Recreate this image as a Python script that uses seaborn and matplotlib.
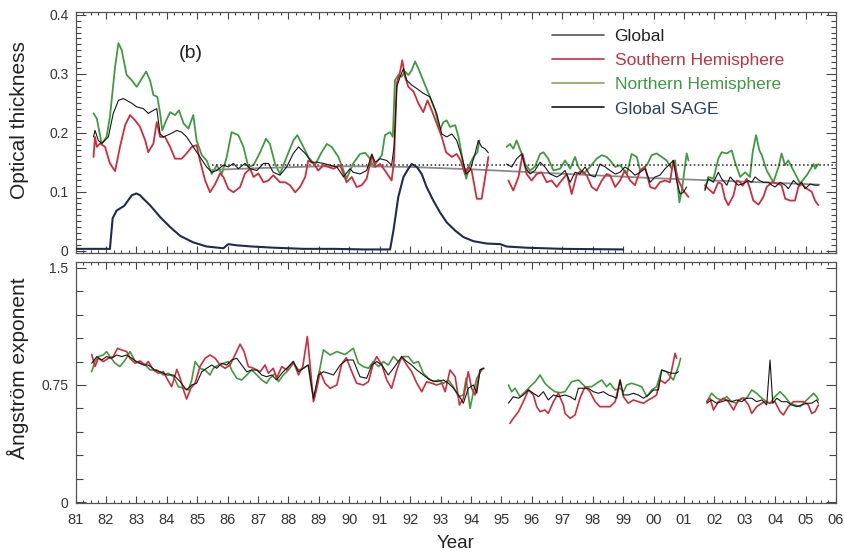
import matplotlib
matplotlib.use("Agg")
import matplotlib.pyplot as plt
import seaborn as sns
from matplotlib.ticker import FixedLocator, MultipleLocator, FixedFormatter
from matplotlib.lines import Line2D

# ---------------- axis ticks / labels ----------------
year_ticks = list(range(1981, 2007))
year_labels = ["81", "82", "83", "84", "85", "86", "87", "88", "89", "90", "91", "92", "93",
               "94", "95", "96", "97", "98", "99", "00", "01", "02", "03", "04", "05", "06"]
aod_ticks = [0.0, 0.1, 0.2, 0.3, 0.4]
aod_tick_labels = ["0", "0.1", "0.2", "0.3", "0.4"]
ang_ticks = [0.0, 0.75, 1.5]
ang_tick_labels = ["0", "0.75", "1.5"]

series_labels = ["Global", "Southern Hemisphere", "Northern Hemisphere", "Global SAGE"]

# ---------------- top panel: optical thickness ----------------
# Northern Hemisphere
nh_aod_yr_a = [1981.59, 1981.70, 1981.86, 1982.02, 1982.13, 1982.30, 1982.41, 1982.52, 1982.68, 1982.85,
               1983.01, 1983.18, 1983.32, 1983.45, 1983.56, 1983.69, 1983.78, 1983.85, 1983.98, 1984.11,
               1984.27, 1984.40, 1984.55, 1984.71, 1984.87, 1984.98, 1985.15, 1985.31, 1985.48, 1985.64,
               1985.81, 1985.97, 1986.13, 1986.35, 1986.52, 1986.68, 1986.85, 1987.07, 1987.26, 1987.39,
               1987.56, 1987.72, 1987.94, 1988.16, 1988.29, 1988.49, 1988.65, 1988.87, 1989.09, 1989.26,
               1989.42, 1989.64, 1989.91, 1990.13, 1990.35, 1990.52, 1990.68, 1990.79, 1990.90, 1991.07,
               1991.17, 1991.34, 1991.43, 1991.50, 1991.61, 1991.72, 1991.83, 1991.94, 1992.05, 1992.16,
               1992.27, 1992.38, 1992.49, 1992.65, 1992.82, 1992.98, 1993.09, 1993.20, 1993.31, 1993.48,
               1993.59, 1993.75, 1993.84, 1993.97, 1994.08, 1994.21, 1994.28]
nh_aod_a = [0.233, 0.224, 0.181, 0.193, 0.227, 0.312, 0.352, 0.340, 0.298, 0.289,
            0.278, 0.292, 0.304, 0.289, 0.264, 0.261, 0.233, 0.204, 0.221, 0.235,
            0.230, 0.238, 0.216, 0.207, 0.230, 0.187, 0.162, 0.153, 0.130, 0.145,
            0.130, 0.159, 0.201, 0.196, 0.176, 0.142, 0.145, 0.167, 0.190, 0.181,
            0.147, 0.130, 0.159, 0.187, 0.196, 0.176, 0.159, 0.145, 0.167, 0.181,
            0.176, 0.159, 0.122, 0.148, 0.164, 0.166, 0.156, 0.142, 0.150, 0.162,
            0.196, 0.201, 0.193, 0.289, 0.298, 0.295, 0.304, 0.298, 0.306, 0.321,
            0.309, 0.295, 0.281, 0.261, 0.238, 0.204, 0.218, 0.221, 0.210, 0.213,
            0.193, 0.147, 0.122, 0.147, 0.159, 0.167, 0.187]
nh_aod_yr_b = [1995.17, 1995.28, 1995.39, 1995.50, 1995.67, 1995.78, 1995.94, 1996.10, 1996.27, 1996.38,
               1996.54, 1996.71, 1996.93, 1997.09, 1997.26, 1997.42, 1997.53, 1997.69, 1997.91, 1998.13,
               1998.30, 1998.46, 1998.57, 1998.74, 1998.90, 1999.12, 1999.28, 1999.45, 1999.56, 1999.78,
               1999.94, 2000.10, 2000.27, 2000.43, 2000.60, 2000.71, 2000.85, 2000.93, 2001.09, 2001.15]
nh_aod_b = [0.176, 0.181, 0.173, 0.187, 0.164, 0.147, 0.136, 0.142, 0.164, 0.167,
            0.156, 0.136, 0.139, 0.153, 0.139, 0.159, 0.142, 0.130, 0.142, 0.156,
            0.162, 0.159, 0.153, 0.142, 0.145, 0.130, 0.164, 0.159, 0.136, 0.145,
            0.162, 0.165, 0.159, 0.153, 0.139, 0.153, 0.082, 0.102, 0.165, 0.153]
nh_aod_yr_c = [2001.69, 2001.80, 2001.97, 2002.13, 2002.24, 2002.41, 2002.57, 2002.68, 2002.85, 2003.01,
               2003.17, 2003.26, 2003.37, 2003.48, 2003.56, 2003.72, 2003.94, 2004.11, 2004.21, 2004.32,
               2004.43, 2004.60, 2004.82, 2005.04, 2005.26, 2005.31, 2005.42]
nh_aod_c = [0.105, 0.125, 0.122, 0.156, 0.167, 0.165, 0.170, 0.150, 0.125, 0.133,
            0.125, 0.167, 0.196, 0.170, 0.162, 0.136, 0.116, 0.142, 0.165, 0.145,
            0.153, 0.136, 0.114, 0.128, 0.147, 0.139, 0.147]

# Southern Hemisphere
sh_aod_yr_a = [1981.59, 1981.64, 1981.70, 1981.81, 1981.97, 1982.13, 1982.30, 1982.46, 1982.63, 1982.79,
               1982.96, 1983.12, 1983.29, 1983.39, 1983.56, 1983.67, 1983.78, 1983.94, 1984.11, 1984.27,
               1984.49, 1984.65, 1984.82, 1984.98, 1985.09, 1985.26, 1985.42, 1985.59, 1985.75, 1985.86,
               1986.02, 1986.19, 1986.41, 1986.57, 1986.74, 1986.85, 1987.01, 1987.18, 1987.34, 1987.50,
               1987.72, 1987.89, 1988.05, 1988.22, 1988.38, 1988.55, 1988.65, 1988.82, 1988.98, 1989.15,
               1989.31, 1989.48, 1989.70, 1989.91, 1990.08, 1990.24, 1990.41, 1990.57, 1990.74, 1990.85,
               1991.01, 1991.17, 1991.39, 1991.47, 1991.56, 1991.67, 1991.74, 1991.83, 1991.94, 1992.11,
               1992.27, 1992.43, 1992.57, 1992.71, 1992.87, 1993.04, 1993.18, 1993.37, 1993.53, 1993.66,
               1993.80, 1993.91, 1994.02, 1994.19, 1994.35, 1994.52, 1994.57]
sh_aod_a = [0.159, 0.193, 0.176, 0.182, 0.176, 0.148, 0.135, 0.176, 0.213, 0.230,
            0.221, 0.210, 0.187, 0.167, 0.182, 0.218, 0.193, 0.193, 0.176, 0.156,
            0.156, 0.165, 0.176, 0.179, 0.153, 0.119, 0.099, 0.113, 0.131, 0.125,
            0.105, 0.099, 0.108, 0.131, 0.139, 0.125, 0.131, 0.116, 0.119, 0.128,
            0.116, 0.116, 0.111, 0.099, 0.108, 0.125, 0.153, 0.148, 0.136, 0.145,
            0.142, 0.139, 0.145, 0.116, 0.125, 0.108, 0.111, 0.122, 0.162, 0.142,
            0.147, 0.136, 0.119, 0.153, 0.284, 0.304, 0.323, 0.295, 0.278, 0.270,
            0.250, 0.235, 0.255, 0.238, 0.216, 0.193, 0.167, 0.159, 0.164, 0.153,
            0.130, 0.142, 0.136, 0.088, 0.088, 0.142, 0.159]
sh_aod_yr_b = [1995.23, 1995.39, 1995.56, 1995.70, 1995.83, 1995.99, 1996.16, 1996.32, 1996.49, 1996.65,
               1996.82, 1996.93, 1997.15, 1997.31, 1997.48, 1997.64, 1997.80, 1997.97, 1998.13, 1998.30,
               1998.46, 1998.57, 1998.74, 1998.90, 1999.06, 1999.23, 1999.39, 1999.56, 1999.72, 1999.89,
               2000.05, 2000.21, 2000.38, 2000.54, 2000.65, 2000.82, 2000.98, 2001.15]
sh_aod_b = [0.119, 0.102, 0.125, 0.164, 0.130, 0.119, 0.130, 0.133, 0.116, 0.119,
            0.108, 0.116, 0.130, 0.096, 0.130, 0.136, 0.128, 0.108, 0.102, 0.119,
            0.130, 0.128, 0.108, 0.119, 0.136, 0.119, 0.111, 0.136, 0.142, 0.108,
            0.105, 0.116, 0.119, 0.116, 0.153, 0.119, 0.102, 0.091]
sh_aod_yr_c = [2001.69, 2001.80, 2001.97, 2002.13, 2002.24, 2002.35, 2002.46, 2002.63, 2002.74, 2002.85,
               2002.93, 2003.06, 2003.17, 2003.28, 2003.45, 2003.61, 2003.72, 2003.89, 2004.05, 2004.21,
               2004.33, 2004.49, 2004.65, 2004.76, 2004.87, 2005.04, 2005.20, 2005.31, 2005.42]
sh_aod_c = [0.111, 0.105, 0.097, 0.116, 0.113, 0.088, 0.077, 0.094, 0.119, 0.116,
            0.110, 0.122, 0.105, 0.085, 0.078, 0.091, 0.108, 0.116, 0.114, 0.111,
            0.088, 0.085, 0.085, 0.108, 0.113, 0.105, 0.100, 0.085, 0.077]

# Global
gl_aod_yr_a = [1981.59, 1981.64, 1981.75, 1981.86, 1982.08, 1982.24, 1982.41, 1982.57, 1982.68, 1982.85,
               1983.01, 1983.23, 1983.39, 1983.56, 1983.67, 1983.78, 1983.89, 1984.11, 1984.33, 1984.49,
               1984.65, 1984.87, 1985.09, 1985.31, 1985.48, 1985.64, 1985.86, 1986.02, 1986.19, 1986.35,
               1986.57, 1986.74, 1986.96, 1987.18, 1987.34, 1987.50, 1987.72, 1987.94, 1988.16, 1988.33,
               1988.55, 1988.76, 1988.93, 1989.15, 1989.37, 1989.59, 1989.81, 1990.02, 1990.13, 1990.35,
               1990.57, 1990.74, 1990.85, 1991.01, 1991.23, 1991.39, 1991.47, 1991.56, 1991.67, 1991.78,
               1991.89, 1992.05, 1992.22, 1992.43, 1992.65, 1992.87, 1993.04, 1993.20, 1993.37, 1993.53,
               1993.70, 1993.84, 1993.97, 1994.13, 1994.24, 1994.35, 1994.46, 1994.57]
gl_aod_a = [0.193, 0.204, 0.187, 0.182, 0.193, 0.233, 0.255, 0.258, 0.255, 0.250,
            0.244, 0.241, 0.233, 0.238, 0.241, 0.198, 0.193, 0.198, 0.204, 0.201,
            0.193, 0.176, 0.159, 0.142, 0.133, 0.136, 0.145, 0.142, 0.148, 0.139,
            0.148, 0.139, 0.136, 0.148, 0.148, 0.133, 0.128, 0.142, 0.165, 0.176,
            0.165, 0.150, 0.150, 0.148, 0.145, 0.142, 0.125, 0.139, 0.133, 0.130,
            0.136, 0.164, 0.150, 0.156, 0.153, 0.145, 0.176, 0.278, 0.295, 0.309,
            0.289, 0.281, 0.275, 0.267, 0.261, 0.233, 0.198, 0.193, 0.198, 0.187,
            0.159, 0.130, 0.136, 0.164, 0.187, 0.176, 0.173, 0.166]
gl_aod_yr_b = [1995.17, 1995.34, 1995.50, 1995.67, 1995.78, 1995.94, 1996.10, 1996.27, 1996.43, 1996.60,
               1996.82, 1996.93, 1997.09, 1997.26, 1997.42, 1997.58, 1997.75, 1997.91, 1998.08, 1998.24,
               1998.41, 1998.57, 1998.74, 1998.90, 1999.06, 1999.23, 1999.39, 1999.56, 1999.72, 1999.89,
               2000.05, 2000.21, 2000.38, 2000.54, 2000.65, 2000.76, 2000.87, 2000.98, 2001.09]
gl_aod_b = [0.147, 0.142, 0.156, 0.164, 0.142, 0.130, 0.136, 0.150, 0.142, 0.130,
            0.125, 0.128, 0.136, 0.116, 0.133, 0.130, 0.142, 0.128, 0.125, 0.147,
            0.142, 0.136, 0.130, 0.133, 0.142, 0.136, 0.128, 0.133, 0.139, 0.116,
            0.125, 0.128, 0.139, 0.147, 0.153, 0.119, 0.096, 0.099, 0.108]
gl_aod_yr_c = [2001.69, 2001.80, 2001.97, 2002.13, 2002.24, 2002.41, 2002.52, 2002.68, 2002.79, 2002.96,
               2003.12, 2003.23, 2003.34, 2003.48, 2003.61, 2003.78, 2003.89, 2004.00, 2004.16, 2004.33,
               2004.43, 2004.60, 2004.76, 2004.87, 2004.98, 2005.15, 2005.31, 2005.42]
gl_aod_c = [0.102, 0.122, 0.116, 0.133, 0.122, 0.111, 0.125, 0.116, 0.111, 0.114,
            0.119, 0.116, 0.125, 0.119, 0.116, 0.116, 0.111, 0.108, 0.116, 0.111,
            0.105, 0.119, 0.111, 0.116, 0.105, 0.113, 0.111, 0.111]

# Global SAGE
sage_yr = [1981.00, 1982.13, 1982.22, 1982.35, 1982.60, 1982.85, 1983.00, 1983.12, 1983.23, 1983.45,
           1983.78, 1984.11, 1984.44, 1984.87, 1985.31, 1985.86, 1986.02, 1986.30, 1986.80, 1987.50,
           1988.50, 1989.50, 1990.50, 1991.34, 1991.45, 1991.61, 1991.78, 1991.94, 1992.05, 1992.22,
           1992.38, 1992.54, 1992.76, 1992.98, 1993.20, 1993.48, 1993.75, 1994.08, 1994.52, 1994.96,
           1995.17, 1995.80, 1997.00, 1999.00]
sage_aod = [0.003, 0.003, 0.055, 0.068, 0.076, 0.094, 0.097, 0.094, 0.088, 0.077,
            0.057, 0.040, 0.025, 0.014, 0.007, 0.004, 0.011, 0.009, 0.007, 0.005,
            0.003, 0.003, 0.002, 0.002, 0.034, 0.091, 0.125, 0.139, 0.147, 0.142,
            0.130, 0.108, 0.085, 0.065, 0.048, 0.034, 0.023, 0.016, 0.012, 0.011,
            0.007, 0.005, 0.003, 0.002]

# global trend (grey) and reference level (dotted)
trend_yr = [1985.48, 1987.0, 1989.0, 1990.5, 1992.0, 1994.0, 1996.0, 1998.0, 2000.0, 2002.0, 2004.0, 2005.45]
trend_aod = [0.137, 0.140, 0.143, 0.143, 0.142, 0.138, 0.133, 0.128, 0.123, 0.119, 0.115, 0.112]
ref_yr = [1985.48, 2006.0]
ref_aod = [0.145, 0.145]

# ---------------- bottom panel: Angstrom exponent ----------------
sh_ang_yr_a = [1981.53, 1981.64, 1981.75, 1981.91, 1982.08, 1982.24, 1982.38, 1982.52, 1982.68, 1982.79,
               1982.96, 1983.12, 1983.29, 1983.39, 1983.56, 1983.72, 1983.89, 1984.00, 1984.16, 1984.33,
               1984.44, 1984.55, 1984.65, 1984.79, 1984.93, 1985.09, 1985.26, 1985.42, 1985.59, 1985.75,
               1985.92, 1986.08, 1986.24, 1986.41, 1986.54, 1986.68, 1986.85, 1987.07, 1987.23, 1987.34,
               1987.50, 1987.61, 1987.78, 1987.94, 1988.16, 1988.33, 1988.47, 1988.62, 1988.71, 1988.82,
               1988.93, 1989.04, 1989.20, 1989.37, 1989.59, 1989.75, 1989.90, 1990.05, 1990.24, 1990.46,
               1990.63, 1990.79, 1990.90, 1991.07, 1991.23, 1991.39, 1991.56, 1991.72, 1991.89, 1992.05,
               1992.22, 1992.38, 1992.54, 1992.71, 1992.87, 1993.04, 1993.15, 1993.31, 1993.48, 1993.62,
               1993.75, 1993.91, 1994.02, 1994.13, 1994.30, 1994.39]
sh_ang_a = [0.946, 0.868, 0.921, 0.900, 0.921, 0.932, 0.985, 0.974, 0.964, 0.921,
            0.889, 0.904, 0.878, 0.900, 0.846, 0.825, 0.835, 0.793, 0.739, 0.850,
            0.793, 0.718, 0.660, 0.729, 0.761, 0.868, 0.921, 0.942, 0.921, 0.878,
            0.857, 0.878, 0.942, 1.011, 0.964, 0.868, 0.857, 0.835, 0.878, 0.825,
            0.857, 0.793, 0.868, 0.846, 0.900, 0.814, 0.868, 1.060, 0.878, 0.643,
            0.729, 0.835, 0.761, 0.729, 0.750, 0.885, 0.925, 0.850, 0.761, 0.750,
            0.771, 0.889, 0.932, 0.878, 0.782, 0.729, 0.846, 0.932, 0.878, 0.835,
            0.761, 0.707, 0.771, 0.761, 0.750, 0.761, 0.707, 0.846, 0.803, 0.622,
            0.665, 0.835, 0.729, 0.686, 0.846, 0.857]
sh_ang_yr_b = [1995.28, 1995.39, 1995.56, 1995.72, 1995.89, 1996.05, 1996.16, 1996.27, 1996.43, 1996.54,
               1996.71, 1996.87, 1997.04, 1997.09, 1997.26, 1997.42, 1997.58, 1997.75, 1997.91, 1998.08,
               1998.24, 1998.41, 1998.57, 1998.74, 1998.90, 1999.01, 1999.17, 1999.34, 1999.50, 1999.67,
               1999.83, 1999.94, 2000.10, 2000.21, 2000.38, 2000.54, 2000.71, 2000.76]
sh_ang_b = [0.504, 0.536, 0.579, 0.643, 0.718, 0.686, 0.611, 0.579, 0.590, 0.568,
            0.643, 0.697, 0.620, 0.568, 0.536, 0.558, 0.665, 0.739, 0.707, 0.643,
            0.611, 0.611, 0.611, 0.643, 0.782, 0.675, 0.633, 0.654, 0.643, 0.633,
            0.654, 0.665, 0.686, 0.782, 0.761, 0.793, 0.953, 0.921]
sh_ang_yr_c = [2001.75, 2001.86, 2001.97, 2002.13, 2002.30, 2002.46, 2002.63, 2002.79, 2002.95, 2003.12,
               2003.23, 2003.39, 2003.56, 2003.67, 2003.83, 2003.99, 2004.16, 2004.27, 2004.43, 2004.60,
               2004.76, 2004.93, 2005.09, 2005.20, 2005.31, 2005.42]
sh_ang_c = [0.643, 0.665, 0.590, 0.643, 0.665, 0.643, 0.590, 0.654, 0.665, 0.622,
            0.568, 0.611, 0.633, 0.643, 0.633, 0.643, 0.579, 0.558, 0.611, 0.643,
            0.643, 0.643, 0.622, 0.568, 0.579, 0.622]

nh_ang_yr_a = [1981.53, 1981.64, 1981.75, 1981.91, 1982.02, 1982.13, 1982.30, 1982.46, 1982.63, 1982.79,
               1982.96, 1983.12, 1983.29, 1983.45, 1983.67, 1983.89, 1984.05, 1984.22, 1984.38, 1984.55,
               1984.71, 1984.82, 1984.93, 1985.09, 1985.26, 1985.42, 1985.53, 1985.70, 1985.86, 1986.02,
               1986.13, 1986.30, 1986.46, 1986.63, 1986.79, 1986.96, 1987.12, 1987.28, 1987.39, 1987.56,
               1987.67, 1987.83, 1988.00, 1988.16, 1988.33, 1988.49, 1988.65, 1988.76, 1988.84, 1988.98,
               1989.15, 1989.37, 1989.59, 1989.86, 1990.13, 1990.30, 1990.46, 1990.63, 1990.79, 1990.96,
               1991.12, 1991.28, 1991.45, 1991.61, 1991.78, 1991.94, 1992.11, 1992.27, 1992.43, 1992.60,
               1992.76, 1992.93, 1993.09, 1993.26, 1993.42, 1993.59, 1993.75, 1993.84, 1993.97, 1994.08,
               1994.19, 1994.35, 1994.43]
nh_ang_a = [0.835, 0.900, 0.932, 0.942, 0.964, 0.932, 0.889, 0.868, 0.910, 0.964,
            0.900, 0.889, 0.878, 0.846, 0.846, 0.814, 0.825, 0.803, 0.739, 0.729,
            0.718, 0.782, 0.900, 0.857, 0.846, 0.814, 0.857, 0.878, 0.889, 0.900,
            0.846, 0.793, 0.782, 0.814, 0.846, 0.814, 0.782, 0.761, 0.793, 0.825,
            0.771, 0.814, 0.846, 0.889, 0.846, 0.857, 0.878, 0.729, 0.654, 0.803,
            0.975, 0.942, 0.964, 0.945, 0.985, 0.889, 0.868, 0.857, 0.900, 0.868,
            0.900, 0.878, 0.932, 0.900, 0.932, 0.932, 0.889, 0.900, 0.825, 0.793,
            0.771, 0.782, 0.761, 0.782, 0.739, 0.675, 0.686, 0.793, 0.600, 0.707,
            0.793, 0.846, 0.857]
nh_ang_yr_b = [1995.23, 1995.34, 1995.45, 1995.61, 1995.78, 1995.94, 1996.11, 1996.27, 1996.43, 1996.60,
               1996.76, 1996.93, 1997.09, 1997.31, 1997.53, 1997.75, 1997.97, 1998.13, 1998.30, 1998.46,
               1998.57, 1998.74, 1998.90, 1999.01, 1999.12, 1999.28, 1999.45, 1999.61, 1999.78, 1999.94,
               2000.10, 2000.27, 2000.43, 2000.65, 2000.82, 2000.89]
nh_ang_b = [0.750, 0.707, 0.729, 0.675, 0.707, 0.739, 0.771, 0.814, 0.761, 0.729,
            0.707, 0.700, 0.707, 0.771, 0.782, 0.739, 0.739, 0.761, 0.782, 0.739,
            0.761, 0.718, 0.729, 0.707, 0.750, 0.761, 0.750, 0.739, 0.675, 0.718,
            0.739, 0.846, 0.835, 0.782, 0.868, 0.921]
nh_ang_yr_c = [2001.75, 2001.91, 2002.08, 2002.24, 2002.41, 2002.57, 2002.73, 2002.90, 2003.06, 2003.23,
               2003.39, 2003.56, 2003.72, 2003.83, 2003.99, 2004.16, 2004.32, 2004.49, 2004.65, 2004.82,
               2004.98, 2005.15, 2005.26, 2005.36, 2005.42]
nh_ang_c = [0.643, 0.697, 0.665, 0.654, 0.675, 0.643, 0.633, 0.665, 0.665, 0.718,
            0.697, 0.665, 0.643, 0.633, 0.675, 0.707, 0.675, 0.633, 0.622, 0.611,
            0.643, 0.675, 0.697, 0.675, 0.654]

gl_ang_yr_a = [1981.53, 1981.70, 1981.86, 1982.02, 1982.19, 1982.35, 1982.52, 1982.68, 1982.85, 1983.01,
               1983.23, 1983.39, 1983.61, 1983.78, 1984.00, 1984.22, 1984.44, 1984.65, 1984.82, 1984.98,
               1985.15, 1985.31, 1985.48, 1985.64, 1985.81, 1985.97, 1986.13, 1986.30, 1986.46, 1986.63,
               1986.79, 1986.96, 1987.12, 1987.28, 1987.45, 1987.61, 1987.78, 1987.94, 1988.16, 1988.33,
               1988.49, 1988.65, 1988.82, 1988.98, 1989.15, 1989.31, 1989.48, 1989.70, 1989.91, 1990.13,
               1990.35, 1990.57, 1990.74, 1990.90, 1991.07, 1991.28, 1991.45, 1991.61, 1991.72, 1991.89,
               1992.05, 1992.22, 1992.43, 1992.65, 1992.87, 1993.09, 1993.26, 1993.42, 1993.59, 1993.75,
               1993.91, 1994.08, 1994.19, 1994.30, 1994.41]
gl_ang_a = [0.889, 0.932, 0.910, 0.932, 0.921, 0.942, 0.932, 0.942, 0.921, 0.900,
            0.878, 0.878, 0.846, 0.835, 0.814, 0.814, 0.771, 0.718, 0.750, 0.761,
            0.835, 0.857, 0.878, 0.857, 0.889, 0.878, 0.910, 0.921, 0.878, 0.835,
            0.846, 0.846, 0.814, 0.803, 0.814, 0.782, 0.825, 0.857, 0.900, 0.835,
            0.857, 0.878, 0.665, 0.814, 0.835, 0.825, 0.814, 0.878, 0.910, 0.910,
            0.803, 0.793, 0.878, 0.900, 0.878, 0.814, 0.857, 0.900, 0.932, 0.900,
            0.878, 0.846, 0.814, 0.782, 0.771, 0.782, 0.761, 0.729, 0.686, 0.633,
            0.729, 0.750, 0.697, 0.846, 0.857]
gl_ang_yr_b = [1995.23, 1995.39, 1995.56, 1995.72, 1995.89, 1996.05, 1996.22, 1996.38, 1996.54, 1996.71,
               1996.87, 1997.09, 1997.26, 1997.42, 1997.53, 1997.69, 1997.86, 1998.02, 1998.19, 1998.35,
               1998.52, 1998.68, 1998.79, 1998.90, 1999.01, 1999.17, 1999.34, 1999.50, 1999.67, 1999.83,
               2000.00, 2000.16, 2000.27, 2000.43, 2000.60, 2000.74, 2000.82]
gl_ang_b = [0.633, 0.675, 0.665, 0.686, 0.718, 0.697, 0.675, 0.707, 0.654, 0.686,
            0.675, 0.686, 0.675, 0.654, 0.729, 0.729, 0.729, 0.707, 0.697, 0.707,
            0.686, 0.675, 0.665, 0.782, 0.686, 0.686, 0.697, 0.686, 0.665, 0.686,
            0.718, 0.718, 0.846, 0.835, 0.825, 0.825, 0.835]
gl_ang_yr_c = [2001.75, 2001.91, 2002.08, 2002.24, 2002.41, 2002.57, 2002.73, 2002.90, 2003.06, 2003.23,
               2003.39, 2003.56, 2003.72, 2003.83, 2003.92, 2004.05, 2004.21, 2004.38, 2004.54, 2004.71,
               2004.87, 2005.04, 2005.20, 2005.36, 2005.42]
gl_ang_c = [0.633, 0.654, 0.633, 0.643, 0.654, 0.643, 0.654, 0.643, 0.665, 0.665,
            0.643, 0.654, 0.622, 0.910, 0.633, 0.665, 0.643, 0.643, 0.622, 0.611,
            0.622, 0.633, 0.633, 0.654, 0.633]

# ---------------- styling ----------------
C_NH = "#3f9b3f"
C_SH = "#d22b3c"
C_GL = "#151515"
C_SAGE = "#1e2d4a"
C_TREND = "#8a8a8a"
legend_line_colors = ["#555555", "#d22b3c", "#86a84e", "#151515"]
legend_text_colors = ["#222222", "#c8303f", "#3f9a3f", "#2d3e63"]

sns.set_theme(style="white")
plt.rcParams["font.family"] = ["Liberation Sans", "DejaVu Sans"]

fig = plt.figure(figsize=(8.45, 5.52), dpi=100)
fig.patch.set_facecolor("white")
ax1 = fig.add_axes([0.0894, 0.5417, 0.9, 0.4366])
ax2 = fig.add_axes([0.0894, 0.0888, 0.9, 0.4366])


def seg(ax, xs, ys, color, lw, z, ls="-"):
    sns.lineplot(x=xs, y=ys, ax=ax, color=color, linewidth=lw, sort=False,
                 estimator=None, zorder=z, legend=False, linestyle=ls)


# top panel
for xs, ys in [(nh_aod_yr_a, nh_aod_a), (nh_aod_yr_b, nh_aod_b), (nh_aod_yr_c, nh_aod_c)]:
    seg(ax1, xs, ys, C_NH, 1.3, 2)
seg(ax1, ref_yr, ref_aod, "#222222", 1.1, 2.5, ":")
seg(ax1, trend_yr, trend_aod, C_TREND, 1.3, 2.6)
for xs, ys in [(sh_aod_yr_a, sh_aod_a), (sh_aod_yr_b, sh_aod_b), (sh_aod_yr_c, sh_aod_c)]:
    seg(ax1, xs, ys, C_SH, 1.3, 3)
for xs, ys in [(gl_aod_yr_a, gl_aod_a), (gl_aod_yr_b, gl_aod_b), (gl_aod_yr_c, gl_aod_c)]:
    seg(ax1, xs, ys, C_GL, 0.8, 4)
seg(ax1, sage_yr, sage_aod, C_SAGE, 1.5, 4)

# bottom panel
for xs, ys in [(nh_ang_yr_a, nh_ang_a), (nh_ang_yr_b, nh_ang_b), (nh_ang_yr_c, nh_ang_c)]:
    seg(ax2, xs, ys, C_NH, 1.2, 2)
for xs, ys in [(sh_ang_yr_a, sh_ang_a), (sh_ang_yr_b, sh_ang_b), (sh_ang_yr_c, sh_ang_c)]:
    seg(ax2, xs, ys, C_SH, 1.2, 3)
for xs, ys in [(gl_ang_yr_a, gl_ang_a), (gl_ang_yr_b, gl_ang_b), (gl_ang_yr_c, gl_ang_c)]:
    seg(ax2, xs, ys, C_GL, 0.8, 4)

# axes formatting
for ax in (ax1, ax2):
    ax.set_xlim(1981, 2006)
    ax.xaxis.set_major_locator(FixedLocator(year_ticks))
    ax.xaxis.set_minor_locator(MultipleLocator(0.25))
    ax.tick_params(which="both", direction="in", top=True, right=True, left=True, bottom=True,
                   color="#444444", width=0.8)
    ax.tick_params(axis="x", which="major", length=5)
    ax.tick_params(axis="x", which="minor", length=2.5)
    for sp in ax.spines.values():
        sp.set_color("#555555")
        sp.set_linewidth(0.9)
    ax.set_xlabel("")
    ax.set_ylabel("")

ax1.set_ylim(-0.004, 0.405)
ax1.yaxis.set_major_locator(FixedLocator(aod_ticks))
ax1.yaxis.set_major_formatter(FixedFormatter(aod_tick_labels))
ax1.yaxis.set_minor_locator(MultipleLocator(0.01))
ax1.tick_params(axis="y", which="major", length=7, labelsize=10, pad=5, labelcolor="#333333")
ax1.tick_params(axis="y", which="minor", length=3.5)
ax1.tick_params(axis="x", labelbottom=False)

ax2.set_ylim(-0.006, 1.538)
ax2.yaxis.set_major_locator(FixedLocator(ang_ticks))
ax2.yaxis.set_major_formatter(FixedFormatter(ang_tick_labels))
ax2.yaxis.set_minor_locator(MultipleLocator(0.15))
ax2.tick_params(axis="y", which="major", length=7, labelsize=10, pad=5, labelcolor="#333333")
ax2.tick_params(axis="y", which="minor", length=5)
ax2.xaxis.set_major_formatter(FixedFormatter(year_labels))
ax2.tick_params(axis="x", which="major", labelsize=10.5, pad=7, labelcolor="#333333")

ax1.set_ylabel("Optical thickness", fontsize=15, color="#222222")
ax1.yaxis.set_label_coords(-0.061, 0.55)
ax2.set_ylabel("Ångström exponent", fontsize=15, color="#222222")
ax2.yaxis.set_label_coords(-0.061, 0.56)
ax2.set_xlabel("Year", fontsize=13.5, color="#222222", labelpad=6)

ax1.text(1984.8, 0.335, "(b)", fontsize=14, ha="center", va="center", color="#222222")

handles = [Line2D([], [], color=c, lw=1.2) for c in legend_line_colors]
ax1.legend(handles, series_labels, loc="upper left", bbox_to_anchor=(0.6266, 0.93),
           frameon=False, fontsize=12.5, handlelength=3.0, handletextpad=0.6,
           labelspacing=0.52, borderpad=0, borderaxespad=0, labelcolor=legend_text_colors)

fig.savefig("out.png", dpi=100, facecolor="white")
